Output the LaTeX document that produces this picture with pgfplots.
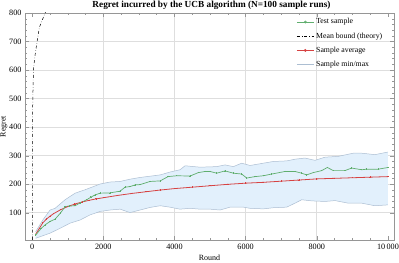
\documentclass[border=0pt]{standalone}
\usepackage{fontspec}
\setmainfont{Liberation Serif}
\usepackage{pgfplots}
\pgfplotsset{compat=1.18}
\usepgfplotslibrary{fillbetween}
\definecolor{testgreen}{RGB}{96,174,110}
\definecolor{avgred}{RGB}{214,66,66}
\definecolor{bandfill}{RGB}{226,240,252}
\definecolor{bandline}{RGB}{172,190,210}
\definecolor{gridc}{RGB}{222,222,222}
\definecolor{axisc}{RGB}{150,150,150}
\begin{document}
\begin{tikzpicture}
\begin{axis}[
  name=ax,
  scale only axis, width=369bp, height=227bp,
  xmin=-200, xmax=10170, ymin=5, ymax=800,
  xtick={0,2000,4000,6000,8000,10000},
  xticklabels={0,2000,4000,6000,8000,10\,000},
  scaled x ticks=false,
  ytick={100,200,300,400,500,600,700,800},
  minor x tick num=3, minor y tick num=4,
  tick align=inside, major tick length=4bp, minor tick length=2bp,
  ymajorgrids=true,
  extra x ticks={2000,4000,6000,8000},
  extra x tick labels={},
  extra x tick style={xmajorgrids=true, major tick length=0pt},
  major grid style={line width=0.9pt, color=gridc},
  axis line style={axisc, line width=0.5pt},
  tick style={axisc, line width=0.4pt},
  /pgf/number format/assume math mode=true,
  every tick label/.append style={font=\fontsize{8.2}{9}\selectfont},
  xticklabel style={yshift=-1bp},
  xlabel={Round}, ylabel={Regret},
  xlabel style={font=\fontsize{8}{9}\selectfont, at={(axis description cs:0.5,0)}, anchor=base, yshift=-20bp},
  ylabel style={font=\fontsize{8}{9}\selectfont, at={(axis description cs:-0.057,0.5)}, anchor=center},
  legend style={draw=none, fill=none, at={(axis description cs:0.735,0.985)}, anchor=north west,
    inner sep=0pt, font=\fontsize{7.8}{9}\selectfont, row sep=3.3bp},
  legend cell align=left,
]
% band
\addplot[name path=maxp, bandline, line width=0.5pt, forget plot] coordinates {
(100,34) (300,75) (505,110) (646,116) (927,146) (1208,169) (1489,181) (1910,201)
(2190,208) (2472,210) (2753,218) (3034,224) (3600,233) (3876,243) (4157,251)
(4298,265) (4719,260) (5188,262) (5421,268) (5655,262) (5890,274) (6124,266)
(6497,274) (6778,280) (7153,282) (7388,288) (7668,292) (7950,284) (8230,295)
(8605,298) (9026,309) (9261,309) (9635,304) (10000,313)};
\addplot[name path=minp, bandline, line width=0.5pt, forget plot] coordinates {
(100,11) (505,29) (786,46) (1067,64) (1348,75) (1629,93) (1910,105) (2190,110)
(2472,113) (2753,101) (3034,110) (3315,119) (3600,125) (3876,120) (4157,113)
(4438,116) (4719,113) (5000,113) (5281,110) (5562,120) (5936,120) (6124,116)
(6497,114) (6778,118) (7153,120) (7388,134) (7576,146) (7856,142) (8230,140)
(8511,143) (8885,134) (9261,134) (9635,125) (10000,128)};
\addplot[bandfill, forget plot] fill between[of=maxp and minp];
% theory bound
\addplot[black, dash dot, line width=0.5pt, forget plot] coordinates {
(8,5) (10,400) (20,500) (37,600) (80,650) (140,700) (205,750) (365,800) (420,815)};
% sample average
\addplot[avgred, line width=0.8pt, mark=+, mark size=0.7pt, forget plot] coordinates {
(100,25) (200,45) (300,65) (400,78) (500,88) (600,97) (800,111) (1000,122)
(1200,131) (1400,138) (1600,144) (1800,149) (2000,153) (2400,161) (2800,168)
(3200,174) (3600,180) (4000,185) (4500,190) (5000,195) (5500,200) (6000,204)
(6500,207) (7000,211) (7500,215) (8000,219) (8500,221) (9000,223) (9500,225) (10000,227)};
% test sample
\addplot[testgreen, line width=0.7pt, mark=+, mark size=0.7pt, forget plot] coordinates {
(100,22) (250,45) (365,58) (505,70) (646,78) (800,100) (927,122) (1050,124)
(1208,125) (1350,135) (1536,146) (1650,155) (1770,163) (1910,169) (2190,170)
(2472,176) (2612,190) (2753,192) (2893,198) (3034,199) (3315,210) (3600,212)
(3820,227) (4064,230) (4438,229) (4671,241) (4860,245) (5000,245) (5188,239)
(5421,247) (5655,239) (5890,236) (6030,222) (6264,227) (6497,230) (6733,236)
(7107,245) (7388,245) (7576,239) (7716,233) (7900,241) (8138,248) (8296,259)
(8464,248) (8792,248) (8980,257) (9261,251) (9401,253) (9728,253) (10000,259)};
\addlegendimage{testgreen, line width=0.7pt, mark=o, mark size=1pt}
\addlegendentry{Test sample}
\addlegendimage{black, dash dot, line width=0.5pt}
\addlegendentry{Mean bound (theory)}
\addlegendimage{avgred, line width=0.8pt, mark=o, mark size=1pt}
\addlegendentry{Sample average}
\addlegendimage{bandline, line width=0.5pt}
\addlegendentry{Sample min/max}
\end{axis}
\node[anchor=base, inner sep=0pt, font=\bfseries\fontsize{9.3}{11}\selectfont] at ([xshift=2bp, yshift=5.5bp]ax.north) {Regret incurred by the UCB algorithm (N=100 sample runs)};
\pgfresetboundingbox
\path[use as bounding box] (-25bp,-23bp) rectangle (374bp,240bp);
\end{tikzpicture}
\end{document}
